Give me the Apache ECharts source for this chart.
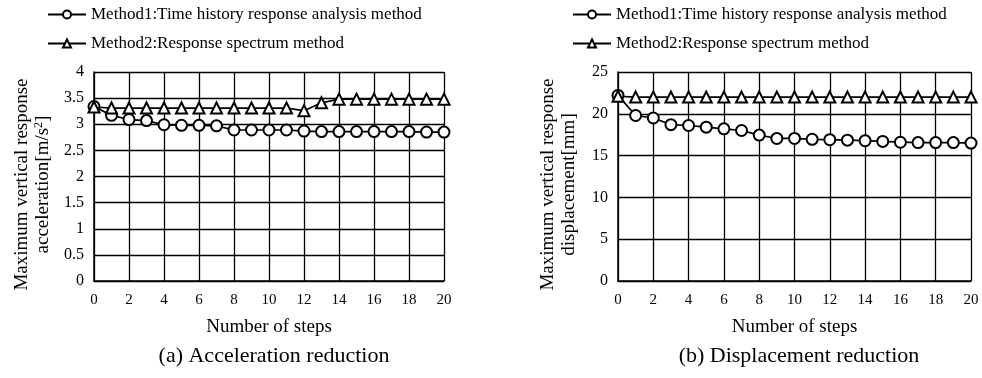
<!DOCTYPE html>
<html>
<head>
<meta charset="utf-8">
<script src="https://cdn.jsdelivr.net/npm/echarts@6/dist/echarts.min.js"></script>
<style>
  html, body { margin: 0; padding: 0; background: #fff; }
  #chart { width: 982px; height: 378px; }
</style>
</head>
<body>
<div id="chart"></div>
<script>
const steps = [0, 1, 2, 3, 4, 5, 6, 7, 8, 9, 10, 11, 12, 13, 14, 15, 16, 17, 18, 19, 20];
const accMethod1 = [3.34, 3.17, 3.09, 3.07, 2.99, 2.98, 2.98, 2.97, 2.89, 2.89, 2.89, 2.89, 2.87, 2.86, 2.86, 2.86, 2.86, 2.86, 2.86, 2.85, 2.85];
const accMethod2 = [3.33, 3.31, 3.31, 3.31, 3.31, 3.31, 3.31, 3.31, 3.31, 3.31, 3.31, 3.31, 3.26, 3.41, 3.48, 3.48, 3.48, 3.48, 3.48, 3.48, 3.48];
const dispMethod1 = [22.2, 19.8, 19.5, 18.7, 18.6, 18.4, 18.2, 18.0, 17.45, 17.05, 17.05, 16.95, 16.9, 16.85, 16.78, 16.7, 16.6, 16.56, 16.56, 16.56, 16.5];
const dispMethod2 = [22.1, 22.0, 22.0, 22.0, 22.0, 22.0, 22.0, 22.0, 22.0, 22.0, 22.0, 22.0, 22.0, 22.0, 22.0, 22.0, 22.0, 22.0, 22.0, 22.0, 22.0];
const name1 = 'Method1:Time history response analysis method';
const name2 = 'Method2:Response spectrum method';

const font = 'Liberation Serif';
const myChart = echarts.init(document.getElementById('chart'));

function pairs(ys) {
  return steps.map((x, i) => [x, ys[i]]);
}

function xAxis(gridIndex) {
  return {
    type: 'value', gridIndex: gridIndex, min: 0, max: 20, interval: 2,
    name: 'Number of steps', nameLocation: 'middle', nameGap: 37,
    nameTextStyle: {fontFamily: font, fontSize: 19, color: '#000'},
    axisLine: {lineStyle: {color: '#000', width: 1.5}},
    axisTick: {show: false},
    axisLabel: {fontFamily: font, fontSize: 15, color: '#000', margin: 12},
    splitLine: {show: true, lineStyle: {color: '#000', width: 1.3}}
  };
}

function yAxis(gridIndex, max, interval, name, gap) {
  return {
    type: 'value', gridIndex: gridIndex, min: 0, max: max, interval: interval,
    name: name, nameLocation: 'middle', nameRotate: 90, nameGap: gap,
    nameTextStyle: {
      fontFamily: font, fontSize: 19, color: '#000', lineHeight: 21,
      padding: [0, 16, 0, 0],
      rich: {
        a: {fontFamily: font, fontSize: 19, color: '#000', lineHeight: 21},
        sup: {fontFamily: font, fontSize: 12, color: '#000', verticalAlign: 'top', lineHeight: 21}
      }
    },
    axisLine: {show: true, lineStyle: {color: '#000', width: 1.5}},
    axisTick: {show: false},
    axisLabel: {fontFamily: font, fontSize: 16, color: '#000', margin: 10},
    splitLine: {show: true, lineStyle: {color: '#000', width: 1.3}}
  };
}

function lineSeries(name, symbol, data, idx) {
  return {
    name: name, type: 'line', xAxisIndex: idx, yAxisIndex: idx,
    data: pairs(data), symbol: symbol, symbolSize: 11,
    itemStyle: {color: '#000', borderWidth: 1.6},
    lineStyle: {color: '#000', width: 1.7},
    animation: false
  };
}

const option = {
  backgroundColor: '#fff',
  animation: false,
  title: [
    {text: '(a) Acceleration reduction', left: 269, top: 340, textAlign: 'center',
      textStyle: {fontFamily: font, fontSize: 22, fontWeight: 'normal', color: '#000'}},
    {text: '(b) Displacement reduction', left: 794, top: 340, textAlign: 'center',
      textStyle: {fontFamily: font, fontSize: 22, fontWeight: 'normal', color: '#000'}}
  ],
  legend: [
    {left: 42, top: 1, orient: 'vertical', itemWidth: 38, itemHeight: 10, itemGap: 12,
      data: [name1, name2], textStyle: {fontFamily: font, fontSize: 17, color: '#000'}},
    {left: 567, top: 1, orient: 'vertical', itemWidth: 38, itemHeight: 10, itemGap: 12,
      data: [name1, name2], textStyle: {fontFamily: font, fontSize: 17, color: '#000'}}
  ],
  grid: [
    {left: 94, right: 538, top: 72, bottom: 97},
    {left: 618, right: 11, top: 72, bottom: 97}
  ],
  xAxis: [xAxis(0), xAxis(1)],
  yAxis: [
    yAxis(0, 4, 0.5, '{a|Maximum vertical response}\n{a|acceleration[m/s}{sup|2}{a|]}', 40),
    yAxis(1, 25, 5, '{a|Maximum vertical response}\n{a|displacement[mm]}', 38)
  ],
  series: [
    lineSeries(name1, 'emptyCircle', accMethod1, 0),
    lineSeries(name2, 'emptyTriangle', accMethod2, 0),
    lineSeries(name1, 'emptyCircle', dispMethod1, 1),
    lineSeries(name2, 'emptyTriangle', dispMethod2, 1)
  ]
};

myChart.setOption(option);
</script>
</body>
</html>
